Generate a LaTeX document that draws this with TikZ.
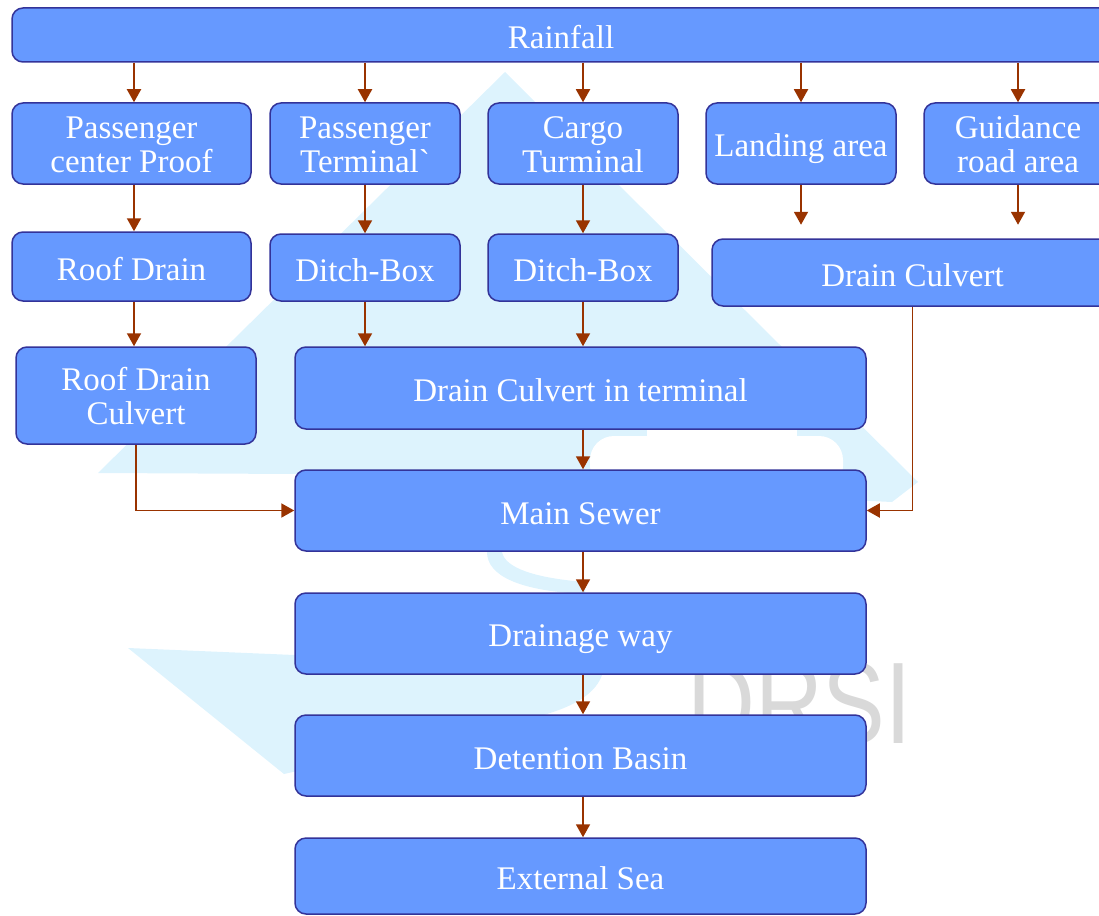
\documentclass[tikz,border=0pt]{standalone}
\usepackage{graphicx}
\usepackage{fontspec}
\setmainfont{Liberation Serif}
\newfontfamily\markfont{Liberation Sans}
\usetikzlibrary{arrows.meta}
\definecolor{boxfill}{HTML}{6699FF}
\definecolor{boxline}{HTML}{333399}
\definecolor{flow}{HTML}{993300}
\definecolor{wmblue}{HTML}{DDF3FD}
\definecolor{wmgrey}{HTML}{D9D9D9}
% fixed line metrics so every label sits at the same height in its box
\newcommand\stagetop{\rule{0pt}{34pt}}
\newcommand\stagetoptwo{\rule{0pt}{65pt}}
\newcommand\stagebot{\rule[-7pt]{0pt}{7pt}}
\begin{document}
\begin{tikzpicture}[x=1pt,y=-1pt,
  stage/.style={draw=boxline, line width=1.5pt, fill=boxfill, rounded corners=11pt,
    text=white, align=center, inner sep=0pt, font=\fontsize{33}{34.5}\selectfont,
    execute at begin node=\stagetop, execute at end node=\stagebot},
  stagetwo/.style={stage, execute at begin node=\stagetoptwo},
  flowarrow/.style={draw=flow, line width=1.9pt, -{Triangle[length=13pt,width=14pt]}},
]
\useasboundingbox (0,0) rectangle (1099,915);

% faint logo in the background
\fill[wmblue] (505,72) -- (918,482) -- (892,502) -- (300,474) -- (98,473) -- cycle;
\fill[white, rounded corners=24pt] (590,436) rectangle (843,490);
\fill[white] (647,428) rectangle (797,445);
\fill[wmblue] (487,552) .. controls (487,576) and (520,591) .. (585,594)
  -- (585,582) .. controls (535,578) and (505,568) .. (502,552) -- cycle;
\fill[wmblue] (128,648) -- (604,668) .. controls (600,690) and (580,705) .. (540,716)
  -- (284,774) -- cycle;
\node[anchor=south west, inner sep=0pt, text=wmgrey,
  font=\markfont\fontsize{116}{116}\selectfont] (logo) at (687,745)
  {\scalebox{0.81}[1]{DRSI}};

% stages
\node[stage, minimum width=1098pt, minimum height=54pt] (rain) at (561,35) {Rainfall};

\node[stagetwo, minimum width=239pt, minimum height=81pt] (pcp) at (131.5,143.5) {Passenger\\center Proof};
\node[stagetwo, minimum width=190pt, minimum height=81pt] (pter) at (365,143.5) {Passenger\\Terminal\textasciigrave};
\node[stagetwo, minimum width=190pt, minimum height=81pt] (cter) at (583,143.5) {Cargo\\Turminal};
\node[stage, minimum width=190pt, minimum height=81pt] (land) at (801,143.5) {Landing area};
\node[stagetwo, minimum width=188pt, minimum height=81pt] (guide) at (1018,143.5) {Guidance\\road area};

\node[stage, minimum width=239pt, minimum height=69pt] (roof) at (131.5,266.5) {Roof Drain};
\node[stage, minimum width=190pt, minimum height=67pt] (ditchA) at (365,267.5) {Ditch-Box};
\node[stage, minimum width=190pt, minimum height=67pt] (ditchB) at (583,267.5) {Ditch-Box};
\node[stage, minimum width=401pt, minimum height=67pt] (culv) at (912.5,272.5) {Drain Culvert};

\node[stagetwo, minimum width=240pt, minimum height=97pt] (roofculv) at (136,395.5) {Roof Drain\\Culvert};
\node[stage, minimum width=571pt, minimum height=82pt] (termculv) at (580.5,388) {Drain Culvert in terminal};
\node[stage, minimum width=571pt, minimum height=81pt] (sewer) at (580.5,510.5) {Main Sewer};
\node[stage, minimum width=571pt, minimum height=81pt] (way) at (580.5,633.5) {Drainage way};
\node[stage, minimum width=571pt, minimum height=81pt] (basin) at (580.5,755.5) {Detention Basin};
\node[stage, minimum width=571pt, minimum height=76pt] (sea) at (580.5,876) {External Sea};

% flow connectors
\draw[flowarrow] (rain.south -| 134,0) -- (pcp.north -| 134,0);
\draw[flowarrow] (rain.south -| pter.north) -- (pter.north);
\draw[flowarrow] (rain.south -| cter.north) -- (cter.north);
\draw[flowarrow] (rain.south -| land.north) -- (land.north);
\draw[flowarrow] (rain.south -| guide.north) -- (guide.north);

\draw[flowarrow] (pcp.south -| 134,0) -- (roof.north -| 134,0);
\draw[flowarrow] (pter.south) -- (ditchA.north);
\draw[flowarrow] (cter.south) -- (ditchB.north);
\path (land.south) ++(0,40) coordinate (landEnd);
\path (guide.south) ++(0,40) coordinate (guideEnd);
\draw[flowarrow] (land.south) -- (landEnd);
\draw[flowarrow] (guide.south) -- (guideEnd);

\draw[flowarrow] (roof.south -| 134,0) -- (roofculv.north -| 134,0);
\draw[flowarrow] (ditchA.south) -- (ditchA.south |- termculv.north);
\draw[flowarrow] (ditchB.south) -- (ditchB.south |- termculv.north);

\draw[flowarrow] (termculv.south -| ditchB.south) -- (sewer.north -| ditchB.south);
\draw[flowarrow] (roofculv.south) |- (sewer.west);
\draw[flowarrow] (culv.south) |- (sewer.east);

\draw[flowarrow] (sewer.south -| ditchB.south) -- (way.north -| ditchB.south);
\draw[flowarrow] (way.south -| ditchB.south) -- (basin.north -| ditchB.south);
\draw[flowarrow] (basin.south -| ditchB.south) -- (sea.north -| ditchB.south);
\end{tikzpicture}
\end{document}
